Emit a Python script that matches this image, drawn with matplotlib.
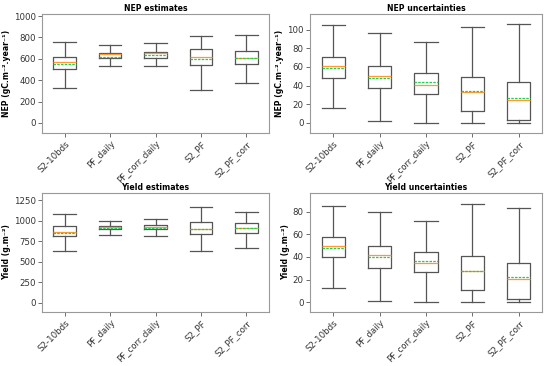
import matplotlib.pyplot as plt

labels = ['S2-10bds', 'PF_daily', 'PF_corr_daily', 'S2_PF', 'S2_PF_corr']

# each list: low whisker, q1, median, mean, q3, high whisker
nep_est = [[325, 503, 572, 556, 619, 759],
           [531, 603, 641, 619, 656, 725],
           [528, 612, 650, 631, 666, 747],
           [312, 541, 619, 597, 691, 812],
           [378, 553, 609, 603, 669, 822]]
nep_unc = [[15.8, 48.7, 60.6, 58.4, 71.0, 104.7],
           [2.2, 37.3, 50.2, 48.4, 60.6, 96.4],
           [0.0, 31.5, 41.2, 43.4, 53.8, 86.4],
           [0.0, 13.3, 33.3, 34.0, 49.1, 103.2],
           [0.0, 3.6, 25.1, 27.2, 44.4, 105.7]]
yield_est = [[629, 812, 868, 856, 933, 1080],
             [824, 897, 929, 913, 942, 998],
             [808, 897, 929, 913, 946, 1023],
             [629, 844, 905, 897, 986, 1165],
             [670, 852, 909, 909, 974, 1112]]
yield_unc = [[12.6, 39.6, 49.5, 47.5, 57.7, 84.7],
             [0.9, 30.2, 41.6, 39.9, 50.1, 80.0],
             [0.0, 26.4, 34.9, 36.3, 44.8, 71.8],
             [0.0, 11.1, 27.5, 27.8, 41.3, 86.4],
             [0.0, 2.6, 20.2, 22.0, 34.9, 83.2]]

fs = 5.6
tfs = 6.2
grey = '#555555'


def make_stats(rows):
    stats = []
    for lab, r in zip(labels, rows):
        stats.append(dict(label=lab, whislo=r[0], q1=r[1], med=r[2],
                          mean=r[3], q3=r[4], whishi=r[5]))
    return stats


def panel(ax, rows, title, ylabel, ylim, yticks):
    ax.bxp(make_stats(rows), showmeans=True, meanline=True, showfliers=False,
           widths=0.5,
           boxprops=dict(color=grey, linewidth=0.9),
           whiskerprops=dict(color=grey, linewidth=0.9),
           capprops=dict(color=grey, linewidth=0.9),
           capwidths=0.5,
           medianprops=dict(color='#ff9933', linewidth=0.9),
           meanprops=dict(color='#22cc55', linestyle=(0, (2, 1)), linewidth=0.9))
    ax.set_xlim(0.5, 5.5)
    ax.set_ylim(*ylim)
    ax.set_yticks(yticks)
    ax.set_title(title, fontsize=fs, fontweight='bold', pad=2)
    ax.set_ylabel(ylabel, fontsize=fs, fontweight='bold', labelpad=2)
    ax.tick_params(axis='both', labelsize=tfs, labelcolor='#333333',
                   color=grey, length=3, width=0.6, pad=1.5)
    plt.setp(ax.get_xticklabels(), rotation=45, ha='right',
             rotation_mode='anchor')
    for s in ax.spines.values():
        s.set_color('#999999')
        s.set_linewidth(0.8)


fig = plt.figure(figsize=(5.5, 3.66), dpi=100)
ax1 = fig.add_axes([42/550, 1 - 133/366, 227/550, 119/366])
ax2 = fig.add_axes([310/550, 1 - 133/366, 232/550, 119/366])
ax3 = fig.add_axes([42/550, 1 - 312/366, 227/550, 119/366])
ax4 = fig.add_axes([310/550, 1 - 312/366, 232/550, 119/366])

panel(ax1, nep_est, 'NEP estimates', 'NEP (gC.m⁻².year⁻¹)',
      (-94, 1019), [0, 200, 400, 600, 800, 1000])
panel(ax2, nep_unc, 'NEP uncertainties', 'NEP (gC.m⁻².year⁻¹)',
      (-10.8, 116.8), [0, 20, 40, 60, 80, 100])
panel(ax3, yield_est, 'Yield estimates', 'Yield (g.m⁻²)',
      (-114, 1339), [0, 250, 500, 750, 1000, 1250])
panel(ax4, yield_unc, 'Yield uncertainties', 'Yield (g.m⁻²)',
      (-8.5, 96.4), [0, 20, 40, 60, 80])

fig.savefig('out.png', dpi=100)
